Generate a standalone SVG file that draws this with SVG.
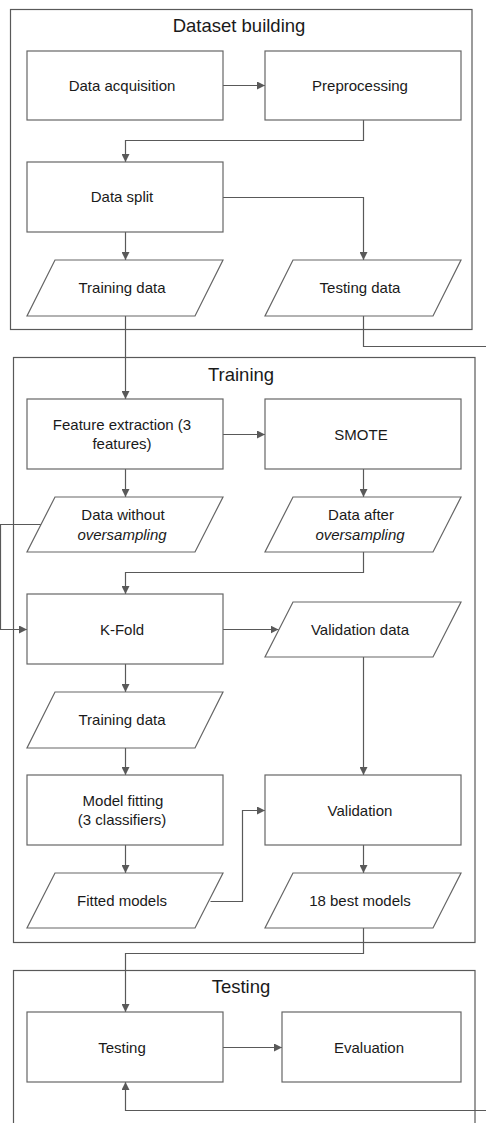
<svg xmlns="http://www.w3.org/2000/svg" width="486" height="1123" viewBox="0 0 486 1123">
<style>
.c{fill:none;stroke:#595959;stroke-width:1.2}
.b{fill:#fff;stroke:#666;stroke-width:1.2}
.e{fill:none;stroke:#595959;stroke-width:1.2}
.t{font-family:"Liberation Sans",Arial,sans-serif;font-size:15px;fill:#1a1a1a;text-anchor:middle}
.h{font-family:"Liberation Sans",Arial,sans-serif;font-size:18.5px;fill:#1a1a1a;text-anchor:middle}
.i{font-style:italic}
</style>
<defs>
<marker id="a" viewBox="0 0 10 10" refX="10" refY="5" markerWidth="8" markerHeight="8" markerUnits="userSpaceOnUse" orient="auto">
<path d="M0 0 L10 5 L0 10 Z" fill="#595959"/>
</marker>
</defs>
<rect width="486" height="1123" fill="#fff"/>
<g id="containers">
<g id="g-dataset"><rect class="c" x="10.5" y="9.5" width="461.5" height="320"/><text class="h" x="239" y="32">Dataset building</text></g>
<g id="g-training"><rect class="c" x="13.5" y="357.5" width="461.5" height="585"/><text class="h" x="241" y="381">Training</text></g>
<g id="g-testing"><rect class="c" x="13.5" y="970.5" width="461.5" height="170"/><text class="h" x="241" y="993">Testing</text></g>
</g>
<g id="connectors">
<path class="e" d="M223 85.5 H265" marker-end="url(#a)"/>
<path class="e" d="M363.5 120 V140.5 H125.5 V162" marker-end="url(#a)"/>
<path class="e" d="M125.5 232 V260" marker-end="url(#a)"/>
<path class="e" d="M223 197.5 H363.5 V260" marker-end="url(#a)"/>
<path class="e" d="M125.5 316 V399" marker-end="url(#a)"/>
<path class="e" d="M363.5 316 V346.5 H490 V1110.5 H125.5 V1082" marker-end="url(#a)"/>
<path class="e" d="M223 434.5 H265" marker-end="url(#a)"/>
<path class="e" d="M125.5 469 V497" marker-end="url(#a)"/>
<path class="e" d="M363.5 469 V497" marker-end="url(#a)"/>
<path class="e" d="M41 524.5 H0.5 V629.5 H27" marker-end="url(#a)"/>
<path class="e" d="M363.5 552 V572.5 H125.5 V594" marker-end="url(#a)"/>
<path class="e" d="M223 629.5 H278.5" marker-end="url(#a)"/>
<path class="e" d="M125.5 664 V692" marker-end="url(#a)"/>
<path class="e" d="M363.5 657 V775" marker-end="url(#a)"/>
<path class="e" d="M125.5 748 V775" marker-end="url(#a)"/>
<path class="e" d="M125.5 845 V873" marker-end="url(#a)"/>
<path class="e" d="M210.5 901.5 H242.5 V810.5 H265" marker-end="url(#a)"/>
<path class="e" d="M363.5 845 V873" marker-end="url(#a)"/>
<path class="e" d="M363.5 928 V953.5 H125.5 V1012" marker-end="url(#a)"/>
<path class="e" d="M223 1047.5 H282" marker-end="url(#a)"/>
</g>
<g id="n-acq"><rect class="b" x="27" y="51" width="196" height="69"/><text class="t" x="122" y="90.5">Data acquisition</text></g>
<g id="n-pre"><rect class="b" x="265" y="51" width="196" height="69"/><text class="t" x="360" y="90.5">Preprocessing</text></g>
<g id="n-split"><rect class="b" x="27" y="162" width="196" height="70"/><text class="t" x="122" y="202">Data split</text></g>
<g id="n-train1"><path class="b" d="M55 260 H223 L195 316 H27 Z"/><text class="t" x="122" y="293">Training data</text></g>
<g id="n-test1"><path class="b" d="M293 260 H461 L433 316 H265 Z"/><text class="t" x="360" y="293">Testing data</text></g>
<g id="n-feat"><rect class="b" x="27" y="399" width="196" height="70"/><text class="t" x="122" y="430">Feature extraction (3</text><text class="t" x="122" y="449">features)</text></g>
<g id="n-smote"><rect class="b" x="265" y="399" width="196" height="70"/><text class="t" x="361" y="439.5">SMOTE</text></g>
<g id="n-dwo"><path class="b" d="M55 497 H223 L195 552 H27 Z"/><text class="t" x="123" y="520">Data without</text><text class="t i" x="122" y="540">oversampling</text></g>
<g id="n-dao"><path class="b" d="M293 497 H461 L433 552 H265 Z"/><text class="t" x="361" y="520">Data after</text><text class="t i" x="360" y="540">oversampling</text></g>
<g id="n-kfold"><rect class="b" x="27" y="594" width="196" height="70"/><text class="t" x="122" y="634.5">K-Fold</text></g>
<g id="n-vdata"><path class="b" d="M293 602 H461 L433 657 H265 Z"/><text class="t" x="360" y="634.5">Validation data</text></g>
<g id="n-train2"><path class="b" d="M55 692 H223 L195 748 H27 Z"/><text class="t" x="122" y="725">Training data</text></g>
<g id="n-fit"><rect class="b" x="27" y="775" width="196" height="70"/><text class="t" x="123" y="806">Model fitting</text><text class="t" x="122" y="825">(3 classifiers)</text></g>
<g id="n-val"><rect class="b" x="265" y="775" width="196" height="70"/><text class="t" x="360" y="815.5">Validation</text></g>
<g id="n-fitted"><path class="b" d="M55 873 H223 L195 928 H27 Z"/><text class="t" x="122" y="906">Fitted models</text></g>
<g id="n-best"><path class="b" d="M293 873 H461 L433 928 H265 Z"/><text class="t" x="360" y="906">18 best models</text></g>
<g id="n-testing"><rect class="b" x="27" y="1012" width="196" height="70"/><text class="t" x="122" y="1052.5">Testing</text></g>
<g id="n-eval"><rect class="b" x="282" y="1012" width="179" height="70"/><text class="t" x="369" y="1052.5">Evaluation</text></g>
</svg>
